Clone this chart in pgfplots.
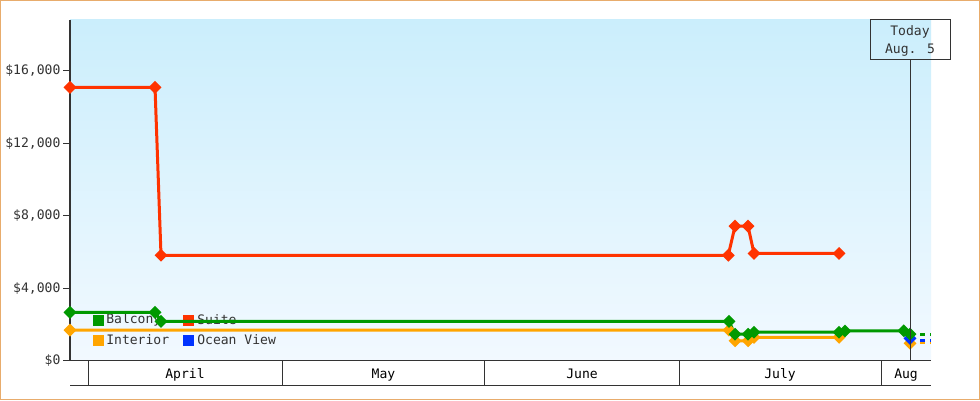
\documentclass[border=0pt]{standalone}
\usepackage{pgfplots}
\pgfplotsset{compat=1.18}
\usepackage{fontspec}
\setmainfont{DejaVu Sans Mono}

\definecolor{cBal}{HTML}{009900}
\definecolor{cSuite}{HTML}{FF3300}
\definecolor{cInt}{HTML}{FFA500}
\definecolor{cOcean}{HTML}{0033FF}
\definecolor{axgray}{HTML}{333333}
\definecolor{skytop}{HTML}{CBEEFC}
\definecolor{skybot}{HTML}{F2F9FF}
\definecolor{framec}{HTML}{E8AC6C}

\begin{document}
\fontsize{9.8}{11}\selectfont
% 1 unit = 1 pixel of the 980x400 reference, y measured from the bottom
\begin{tikzpicture}[x=0.75pt,y=0.75pt]
  \fill[white] (0,0) rectangle (980,400);
  \shade[top color=skytop, bottom color=skybot] (70,39.5) rectangle (931,380);

  % legend (drawn under the lines, as in the original)
  \fill[cBal]   (93,74.5) rectangle (103.5,85);
  \node[anchor=west, inner sep=0, text=axgray] at (106,80) {Balcony};
  \fill[cSuite] (183,74.5) rectangle (193.5,85);
  \node[anchor=west, inner sep=0, text=axgray] at (197,80) {Suite};
  \fill[cInt]   (93,54.5) rectangle (103.5,65);
  \node[anchor=west, inner sep=0, text=axgray] at (106,60) {Interior};
  \fill[cOcean] (183,54.5) rectangle (193.5,65);
  \node[anchor=west, inner sep=0, text=axgray] at (197,60) {Ocean View};

  \begin{axis}[
    at={(52.5pt,29.625pt)}, anchor=south west,
    scale only axis,
    width=645.75pt, height=255.375pt,
    xmin=-2.77, xmax=129.69,
    ymin=0, ymax=18800,
    clip=false,
    scaled y ticks=false,
    axis x line=bottom,
    axis y line=left,
    axis line style={-, draw=axgray},
    x axis line style={line width=0.75pt},
    y axis line style={line width=1.5pt},
    xtick={14.92,45.46,76,106.46,125.85},
    xticklabels={April,May,June,July,Aug},
    xtick style={draw=none},
    xticklabel style={anchor=base, yshift=-8.6pt, text=black},
    ytick={0,4000,8000,12000,16000},
    yticklabels={{\$0},{\$4,000},{\$8,000},{\$12,000},{\$16,000}},
    ytick style={draw=axgray, line width=0.75pt},
    yticklabel style={text=axgray, xshift=1.5pt},
    tick align=outside,
    major tick length=5.25pt,
    every axis plot/.append style={line width=2.25pt, mark size=2.3pt,
      mark options={rotate=45, solid}},
  ]

  % Interior
  \addplot[color=cInt, mark=square*] coordinates {
    (-2.77,1680) (98.6,1680) (99.54,1090) (101.54,1090)
    (102.46,1280) (115.54,1280)
  };
  \addplot[color=cInt, mark=square*, only marks] coordinates {(126.46,950)};
  \addplot[color=cInt, no marks, dash pattern=on 3.75pt off 3.75pt]
    coordinates {(128,980) (129.69,980)};

  % Ocean View
  \addplot[color=cOcean, mark=square*, only marks] coordinates {(126.46,1220)};
  \addplot[color=cOcean, no marks, dash pattern=on 3.75pt off 3.75pt]
    coordinates {(128,1080) (129.69,1080)};

  % Balcony
  \addplot[color=cBal, mark=square*] coordinates {
    (-2.77,2660) (10.31,2660) (11.23,2160) (98.6,2160)
    (99.54,1450) (101.54,1450) (102.46,1560) (115.54,1560)
    (116.46,1630) (125.5,1640) (126.46,1460)
  };
  \addplot[color=cBal, no marks, dash pattern=on 3.75pt off 3.75pt]
    coordinates {(128,1410) (129.69,1410)};

  % Suite
  \addplot[color=cSuite, mark=square*] coordinates {
    (-2.77,15080) (10.31,15080) (11.23,5810) (98.5,5810)
    (99.54,7420) (101.54,7420) (102.46,5910) (115.54,5910)
  };
  \end{axis}

  % month band under the axis
  \draw[axgray, line width=0.75pt] (70,15) -- (931,15);
  \foreach \m in {88,282.5,484.5,679.5,881}
    \draw[axgray, line width=0.75pt] (\m,39.5) -- (\m,15);

  % today marker
  \draw[axgray, line width=0.75pt] (910,39.5) -- (910,340);
  \draw[axgray, line width=0.75pt] (870,340) rectangle (950.5,380);
  \node[text=axgray] at (910,368) {Today};
  \node[text=axgray] at (910,350) {Aug. 5};

  \draw[framec, line width=0.75pt] (0.5,0.5) rectangle (979.5,399.5);
  \pgfresetboundingbox
  \useasboundingbox (0,0) rectangle (980,400);
\end{tikzpicture}
\end{document}
